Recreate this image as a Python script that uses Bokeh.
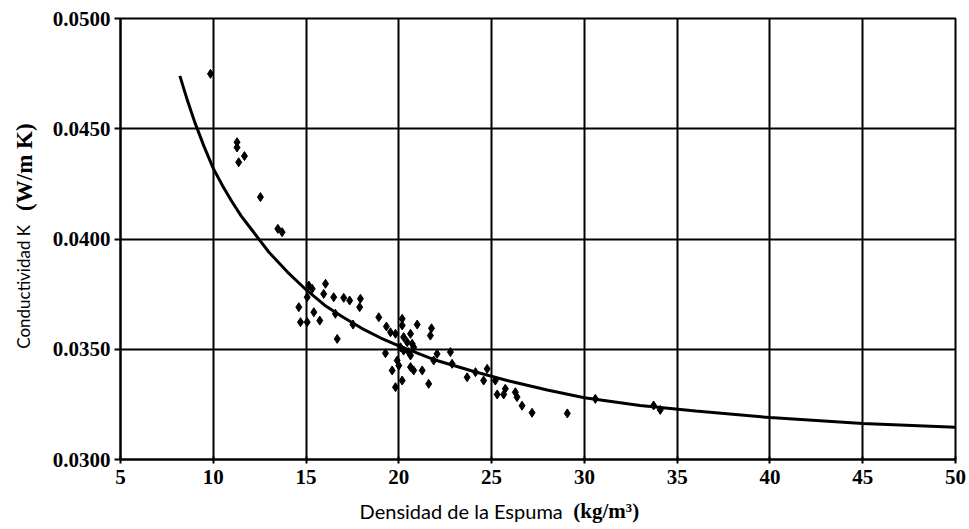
from bokeh.plotting import figure
from bokeh.models import Range1d, FixedTicker, NumeralTickFormatter, LinearAxis
from bokeh.embed import file_html
from bokeh.resources import INLINE

# Measured points: foam density (kg/m3) and conductivity K (W/m K)
density = [9.85, 11.28, 11.28, 11.68, 11.37, 12.54, 13.48, 13.71,
           15.15, 15.33, 15.06, 16.05, 15.95, 16.49, 17.03, 17.35, 17.93, 17.89,
           14.61, 15.42, 14.70, 15.06, 15.74, 16.58, 17.53, 16.68,
           18.92, 19.33, 19.55, 19.82, 20.18, 20.18, 20.99, 21.76, 21.70,
           20.63, 20.26, 20.45, 20.72, 20.09, 20.26, 20.53, 20.80, 20.63,
           19.28, 19.91, 20.00, 20.63, 20.80, 21.26, 22.06, 21.88, 22.78,
           19.64, 20.18, 19.82, 21.61, 22.87, 23.68, 24.13, 24.76, 24.57,
           25.20, 25.30, 25.65, 25.74, 26.28, 26.37, 26.64, 27.18,
           29.08, 30.59, 33.73, 34.09]
conductivity = [0.04749, 0.04439, 0.04415, 0.04376, 0.04348, 0.04190, 0.04046, 0.04031,
                0.03789, 0.03774, 0.03736, 0.03797, 0.03751, 0.03736, 0.03733, 0.03721, 0.03729, 0.03691,
                0.03691, 0.03668, 0.03623, 0.03623, 0.03630, 0.03661, 0.03612, 0.03547,
                0.03645, 0.03603, 0.03577, 0.03570, 0.03638, 0.03608, 0.03612, 0.03595, 0.03562,
                0.03570, 0.03555, 0.03532, 0.03525, 0.03509, 0.03494, 0.03487, 0.03509, 0.03472,
                0.03482, 0.03449, 0.03426, 0.03419, 0.03404, 0.03404, 0.03479, 0.03449, 0.03487,
                0.03404, 0.03358, 0.03328, 0.03343, 0.03434, 0.03373, 0.03396, 0.03411, 0.03358,
                0.03358, 0.03295, 0.03295, 0.03321, 0.03305, 0.03283, 0.03244, 0.03212,
                0.03209, 0.03275, 0.03245, 0.03225]

# Trend curve
curve_x = [8.2, 8.6, 9.0, 9.5, 10, 10.5, 11, 11.5, 12, 12.5, 13, 14, 15, 16, 17, 18, 19, 20,
           22, 24, 26, 28, 30, 33, 36, 40, 45, 50]
curve_y = [0.0474, 0.0463, 0.0453, 0.0442, 0.0432, 0.04242, 0.0417, 0.04105, 0.0405,
           0.03995, 0.0394, 0.0385, 0.0377, 0.0370, 0.03645, 0.03595, 0.03552, 0.03515,
           0.0345, 0.0340, 0.03355, 0.03315, 0.0328, 0.03245, 0.0322, 0.0319, 0.03163, 0.03146]

x_ticks = [5, 10, 15, 20, 25, 30, 35, 40, 45, 50]
y_ticks = [0.030, 0.035, 0.040, 0.045, 0.050]

x_title = "Densidad de la Espuma"
x_unit = "(kg/m³)"
y_title = "Conductividad K"
y_unit = "(W/m K)"
NB = "\u00a0"

p = figure(width=969, height=529, output_backend="svg", toolbar_location=None,
           x_range=Range1d(5, 50), y_range=Range1d(0.030, 0.050),
           min_border_left=120, min_border_right=14, min_border_top=18,
           min_border_bottom=70)
p.background_fill_color = "white"
p.border_fill_color = "white"
p.outline_line_color = "black"
p.outline_line_width = 2

p.xaxis.ticker = FixedTicker(ticks=x_ticks)
p.yaxis.ticker = FixedTicker(ticks=y_ticks)
p.yaxis.formatter = NumeralTickFormatter(format="0.0000")
for ax in (p.xaxis, p.yaxis):
    ax.axis_line_color = "black"
    ax.axis_line_width = 2
    ax.major_tick_line_color = "black"
    ax.major_tick_line_width = 2
    ax.minor_tick_line_color = None
    ax.major_label_text_font = "Liberation Serif"
    ax.major_label_text_font_size = "21px"
    ax.major_label_text_font_style = "bold"
    ax.major_label_text_color = "black"
    ax.axis_label_text_font = "Lato"
    ax.axis_label_text_font_style = "normal"
    ax.axis_label_text_color = "black"
p.xaxis.major_tick_in = 3
p.xaxis.major_tick_out = 4
p.xaxis.major_label_standoff = 6
p.yaxis.major_tick_in = 0
p.yaxis.major_tick_out = 6
p.yaxis.major_label_standoff = 4

p.xaxis.axis_label = x_title + NB * 30
p.xaxis.axis_label_text_font_size = "20px"
p.xaxis.axis_label_standoff = 12
p.yaxis.axis_label = y_title + NB * 22
p.yaxis.axis_label_text_font_size = "17px"
p.yaxis.axis_label_standoff = 16

# extra, invisible axes carrying the bold unit parts of the titles
xunit_ax = LinearAxis(ticker=FixedTicker(ticks=[]), axis_line_color=None,
                      major_tick_line_color=None, minor_tick_line_color=None,
                      axis_label=NB * 26 + x_unit, axis_label_text_font="Liberation Serif",
                      axis_label_text_font_style="bold", axis_label_text_font_size="21px",
                      axis_label_text_color="black", axis_label_standoff=-27)
p.add_layout(xunit_ax, "below")
yunit_ax = LinearAxis(ticker=FixedTicker(ticks=[]), axis_line_color=None,
                      major_tick_line_color=None, minor_tick_line_color=None,
                      axis_label=NB * 25 + y_unit, axis_label_text_font="Liberation Serif",
                      axis_label_text_font_style="bold", axis_label_text_font_size="23px",
                      axis_label_text_color="black", axis_label_standoff=-27)
p.add_layout(yunit_ax, "left")

p.xgrid.ticker = FixedTicker(ticks=x_ticks)
p.ygrid.ticker = FixedTicker(ticks=y_ticks)
for g in (p.xgrid, p.ygrid):
    g.grid_line_color = "black"
    g.grid_line_width = 2
    g.grid_line_alpha = 1.0

p.line(curve_x, curve_y, line_color="black", line_width=3)
p.scatter(density, conductivity, marker="diamond", size=9,
          fill_color="black", line_color="black")

open("out.html", "w").write(file_html(p, INLINE))
